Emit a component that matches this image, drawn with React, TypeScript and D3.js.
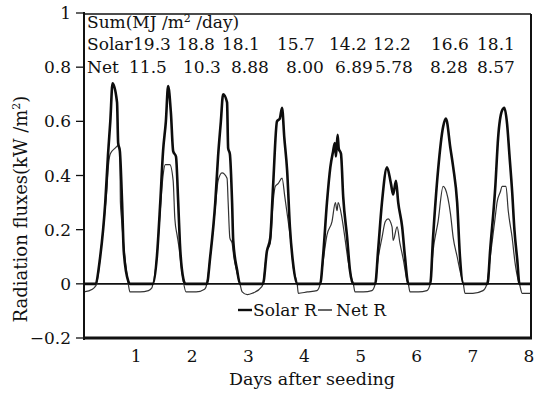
import * as d3 from 'd3';
import { useEffect, useRef } from 'react';

const WIDTH = 541;
const HEIGHT = 397;

// [days after seeding, kW/m²]
const solar: [number, number][] = [
  [0.07, 0], [0.27, 0], [0.36, 0.10], [0.45, 0.30], [0.50, 0.48], [0.54, 0.60], [0.58, 0.74], [0.66, 0.67],
  [0.68, 0.52], [0.71, 0.49], [0.75, 0.30], [0.78, 0.12], [0.86, 0.01], [0.89, 0],
  [1.30, 0], [1.37, 0.10], [1.43, 0.30], [1.48, 0.49], [1.53, 0.60], [1.57, 0.73], [1.62, 0.63], [1.66, 0.49],
  [1.71, 0.47], [1.75, 0.30], [1.78, 0.15], [1.84, 0.02], [1.88, 0],
  [2.26, 0], [2.32, 0.10], [2.41, 0.30], [2.46, 0.47], [2.51, 0.60], [2.55, 0.70], [2.62, 0.67], [2.64, 0.50],
  [2.67, 0.48], [2.71, 0.30], [2.73, 0.16], [2.80, 0.05], [2.85, 0],
  [3.26, 0], [3.33, 0.12], [3.39, 0.17], [3.44, 0.36], [3.51, 0.60], [3.56, 0.61], [3.60, 0.65], [3.64, 0.54],
  [3.69, 0.42], [3.74, 0.21], [3.80, 0.07], [3.87, 0],
  [4.28, 0], [4.33, 0.10], [4.40, 0.30], [4.46, 0.43], [4.51, 0.49], [4.54, 0.52], [4.56, 0.47], [4.59, 0.55],
  [4.61, 0.50], [4.65, 0.48], [4.69, 0.32], [4.76, 0.17], [4.81, 0.05], [4.87, 0],
  [5.26, 0], [5.31, 0.12], [5.38, 0.30], [5.47, 0.43], [5.54, 0.37], [5.58, 0.33], [5.63, 0.38], [5.67, 0.30],
  [5.74, 0.21], [5.79, 0.10], [5.85, 0],
  [6.24, 0], [6.29, 0.17], [6.38, 0.42], [6.47, 0.58], [6.52, 0.61], [6.60, 0.50], [6.65, 0.43], [6.72, 0.30],
  [6.77, 0.10], [6.83, 0],
  [7.26, 0], [7.31, 0.13], [7.40, 0.36], [7.45, 0.54], [7.52, 0.64], [7.56, 0.65], [7.61, 0.59], [7.65, 0.48],
  [7.70, 0.34], [7.74, 0.20], [7.79, 0.09], [7.83, 0], [8.02, 0],
];

const net: [number, number][] = [
  [0.07, -0.03], [0.22, -0.02], [0.27, -0.01], [0.30, 0], [0.36, 0.10], [0.45, 0.28], [0.48, 0.35], [0.50, 0.42],
  [0.54, 0.48], [0.62, 0.50], [0.68, 0.51], [0.71, 0.49], [0.72, 0.30], [0.74, 0.24], [0.78, 0.14], [0.82, 0.06],
  [0.86, 0], [0.89, -0.03], [1.07, -0.03], [1.22, -0.025], [1.28, -0.015], [1.30, 0],
  [1.37, 0.10], [1.43, 0.27], [1.48, 0.40], [1.52, 0.44], [1.60, 0.44], [1.66, 0.38], [1.69, 0.24], [1.73, 0.18],
  [1.76, 0.14], [1.80, 0.07], [1.84, 0.01], [1.89, -0.03], [2.07, -0.03], [2.22, -0.02], [2.26, 0],
  [2.32, 0.10], [2.41, 0.28], [2.46, 0.38], [2.53, 0.41], [2.62, 0.39], [2.64, 0.30], [2.67, 0.17], [2.71, 0.15],
  [2.74, 0.10], [2.80, 0.04], [2.85, 0], [2.89, -0.03], [2.98, -0.04], [3.07, -0.035], [3.24, -0.01], [3.26, 0],
  [3.33, 0.12], [3.39, 0.15], [3.44, 0.30], [3.48, 0.36], [3.53, 0.37], [3.60, 0.39], [3.65, 0.32], [3.71, 0.23],
  [3.76, 0.15], [3.80, 0.06], [3.87, 0], [3.89, -0.035], [4.05, -0.03], [4.22, -0.025], [4.28, 0],
  [4.33, 0.08], [4.40, 0.18], [4.49, 0.23], [4.55, 0.30], [4.58, 0.27], [4.60, 0.30], [4.67, 0.24], [4.72, 0.17],
  [4.78, 0.08], [4.84, 0.02], [4.87, 0], [4.90, -0.03], [5.05, -0.03], [5.20, -0.025], [5.26, 0],
  [5.31, 0.09], [5.38, 0.17], [5.44, 0.23], [5.49, 0.24], [5.56, 0.21], [5.58, 0.16], [5.65, 0.21], [5.70, 0.15],
  [5.76, 0.09], [5.82, 0.02], [5.85, 0], [5.88, -0.03], [6.03, -0.03], [6.18, -0.025], [6.24, 0],
  [6.29, 0.12], [6.38, 0.23], [6.47, 0.36], [6.51, 0.35], [6.60, 0.26], [6.65, 0.17], [6.72, 0.10], [6.78, 0.04],
  [6.83, 0], [6.86, -0.035], [7.00, -0.035], [7.18, -0.025], [7.25, 0],
  [7.31, 0.10], [7.40, 0.25], [7.43, 0.30], [7.49, 0.34], [7.52, 0.36], [7.59, 0.36], [7.63, 0.27], [7.70, 0.17],
  [7.75, 0.08], [7.80, 0.02], [7.83, 0], [7.88, -0.035], [8.02, -0.035],
];

const yTicks = [-0.2, 0, 0.2, 0.4, 0.6, 0.8, 1];
const xTicks = [1, 2, 3, 4, 5, 6, 7, 8];

const solarSums = ['19.3', '18.8', '18.1', '15.7', '14.2', '12.2', '16.6', '18.1'];
const netSums = ['11.5', '10.3', '8.88', '8.00', '6.89', '5.78', '8.28', '8.57'];
const solarSumX = [133, 177, 222, 277, 329, 373, 431, 477];
const netSumX = [129, 183, 231, 286, 335, 375, 430, 477];

const FONT = '"DejaVu Serif", serif';

export default function App() {
  const ref = useRef<SVGSVGElement>(null);

  useEffect(() => {
    if (!ref.current) return;
    const svg = d3.select(ref.current);
    svg.selectAll('*').remove();

    const left = 84;
    const right = 531;
    const x = d3.scaleLinear().domain([0, 8]).range([80, 529]);
    const y = d3.scaleLinear().domain([-0.2, 1]).range([338, 13]);

    const line = d3.line<[number, number]>()
      .x(d => x(d[0]))
      .y(d => y(d[1]))
      .curve(d3.curveMonotoneX);

    // frame
    svg.append('line')
      .attr('x1', left).attr('x2', right).attr('y1', 14).attr('y2', 14)
      .attr('stroke', '#111').attr('stroke-width', 1.6);
    svg.append('line')
      .attr('x1', right).attr('x2', right).attr('y1', 14).attr('y2', 339)
      .attr('stroke', '#111').attr('stroke-width', 2);
    svg.append('line')
      .attr('x1', left).attr('x2', right).attr('y1', y(0)).attr('y2', y(0))
      .attr('stroke', '#111').attr('stroke-width', 1.6);

    // series
    svg.append('path')
      .datum(net)
      .attr('fill', 'none')
      .attr('stroke', '#333')
      .attr('stroke-width', 1.2)
      .attr('stroke-linejoin', 'round')
      .attr('d', line);

    svg.append('path')
      .datum(solar)
      .attr('fill', 'none')
      .attr('stroke', '#0d0d0d')
      .attr('stroke-width', 2.6)
      .attr('stroke-linejoin', 'round')
      .attr('d', line);

    // axes
    svg.append('line')
      .attr('x1', left).attr('x2', left).attr('y1', 12).attr('y2', 340)
      .attr('stroke', '#111').attr('stroke-width', 2);
    svg.append('line')
      .attr('x1', left).attr('x2', right + 1).attr('y1', 338).attr('y2', 338)
      .attr('stroke', '#111').attr('stroke-width', 3);

    const yg = svg.append('g');
    yTicks.forEach(t => {
      yg.append('line')
        .attr('x1', 76).attr('x2', left).attr('y1', y(t)).attr('y2', y(t))
        .attr('stroke', '#111').attr('stroke-width', 1.3);
      yg.append('text')
        .attr('x', 71).attr('y', y(t) + 6)
        .attr('text-anchor', 'end')
        .attr('font-family', FONT).attr('font-size', 17)
        .attr('fill', '#111')
        .text(t === 0 ? '0' : t === 1 ? '1' : t < 0 ? '\u2212' + Math.abs(t).toFixed(1) : t.toFixed(1));
    });

    xTicks.forEach(t => {
      svg.append('text')
        .attr('x', x(t)).attr('y', 362)
        .attr('text-anchor', 'middle')
        .attr('font-family', FONT).attr('font-size', 17)
        .attr('fill', '#111')
        .text(String(t));
    });

    svg.append('text')
      .attr('x', 312).attr('y', 385)
      .attr('text-anchor', 'middle')
      .attr('font-family', FONT).attr('font-size', 17.5)
      .attr('fill', '#111')
      .text('Days after seeding');

    const yl = svg.append('text')
      .attr('transform', 'translate(27,209) rotate(-90)')
      .attr('text-anchor', 'middle')
      .attr('font-family', FONT).attr('font-size', 18)
      .attr('fill', '#111');
    yl.append('tspan').text('Radiation fluxes(kW /m');
    yl.append('tspan').attr('font-size', 11).attr('dy', -7).text('2');
    yl.append('tspan').attr('dy', 7).text(')');

    // daily sums
    const sum = svg.append('text')
      .attr('x', 87).attr('y', 28)
      .attr('font-family', FONT).attr('font-size', 17)
      .attr('fill', '#111');
    sum.append('tspan').text('Sum(MJ /m');
    sum.append('tspan').attr('font-size', 11).attr('dy', -6).text('2');
    sum.append('tspan').attr('dy', 6).text(' /day)');

    svg.append('text')
      .attr('x', 87).attr('y', 50)
      .attr('font-family', FONT).attr('font-size', 17).attr('fill', '#111')
      .text('Solar');
    svg.append('text')
      .attr('x', 87).attr('y', 73)
      .attr('font-family', FONT).attr('font-size', 17).attr('fill', '#111')
      .text('Net');
    solarSums.forEach((s, i) => {
      svg.append('text')
        .attr('x', solarSumX[i]).attr('y', 50)
        .attr('font-family', FONT).attr('font-size', 17).attr('fill', '#111')
        .text(s);
    });
    netSums.forEach((s, i) => {
      svg.append('text')
        .attr('x', netSumX[i]).attr('y', 73)
        .attr('font-family', FONT).attr('font-size', 17).attr('fill', '#111')
        .text(s);
    });

    // legend
    svg.append('line')
      .attr('x1', 238).attr('x2', 252).attr('y1', 310).attr('y2', 310)
      .attr('stroke', '#0d0d0d').attr('stroke-width', 2.4);
    svg.append('text')
      .attr('x', 253).attr('y', 316)
      .attr('font-family', FONT).attr('font-size', 17).attr('fill', '#111')
      .text('Solar R');
    svg.append('line')
      .attr('x1', 318).attr('x2', 332).attr('y1', 310).attr('y2', 310)
      .attr('stroke', '#333').attr('stroke-width', 1.5);
    svg.append('text')
      .attr('x', 336).attr('y', 316)
      .attr('font-family', FONT).attr('font-size', 17).attr('fill', '#111')
      .text('Net R');
  }, []);

  return (
    <svg
      ref={ref}
      width={WIDTH}
      height={HEIGHT}
      viewBox={`0 0 ${WIDTH} ${HEIGHT}`}
      style={{ position: 'absolute', left: 0, top: 0, background: '#fff' }}
    />
  );
}
